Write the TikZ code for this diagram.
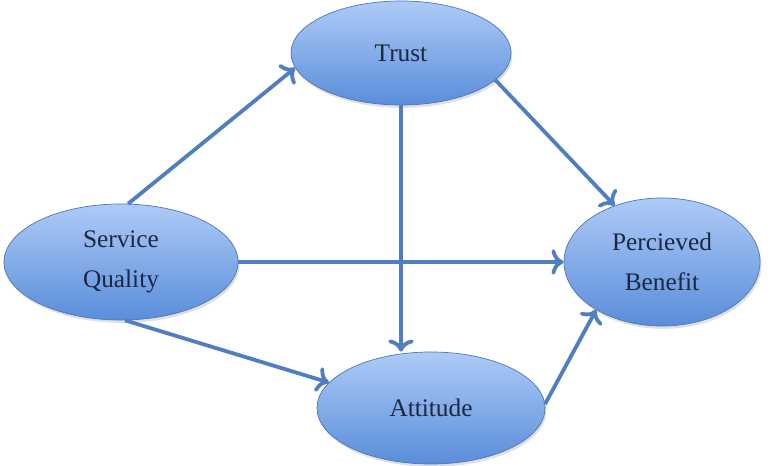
\documentclass[tikz,border=0pt]{standalone}
\usepackage{fontspec}
\setmainfont{Liberation Serif}
\usepackage{tikz}
\usetikzlibrary{arrows.meta, shapes.geometric, shadows}

\definecolor{ovaltop}{HTML}{AECBF7}
\definecolor{ovalbot}{HTML}{5A8DDA}
\definecolor{ovalline}{HTML}{4C78B8}
\definecolor{linkblue}{HTML}{4F7FC0}
\definecolor{labelink}{HTML}{1C2740}

\tikzset{
    construct/.style={ellipse, draw=ovalline, line width=0.5pt,
        top color=ovaltop, bottom color=ovalbot,
        drop shadow={shadow xshift=1pt, shadow yshift=-2pt, opacity=0.25},
        text=labelink, align=center,
        font=\fontsize{18}{28}\selectfont},
    path/.style={-{To[scale=1.15]}, line width=2.7pt, draw=linkblue}
}

\begin{document}
\begin{tikzpicture}[x=0.025cm, y=-0.025cm]
    \useasboundingbox (0,0) rectangle (779,466);

    \node[construct, minimum width=5.5cm, minimum height=2.6cm] at (401, 53)   (trust) {Trust};
    \node[construct, minimum width=5.85cm, minimum height=2.9cm] at (121, 262) (sq) {Service\\Quality};
    \node[construct, minimum width=4.9cm, minimum height=3.2cm] at (662, 262) (pb) {Percieved\\Benefit};
    \node[construct, minimum width=5.7cm, minimum height=2.8cm] at (431, 408) (att) {Attitude};

    \draw [path] (sq.83) -- (trust.188);
    \draw [path] (trust.344) -- (pb.130);
    \draw [path] (sq.east) -- (pb.west);
    \draw [path] (trust.south) -- (att.north -| trust.south);
    \draw [path] (sq.274) -- (att.166);
    \draw [path] (att.2) -- (pb.216);
\end{tikzpicture}
\end{document}
